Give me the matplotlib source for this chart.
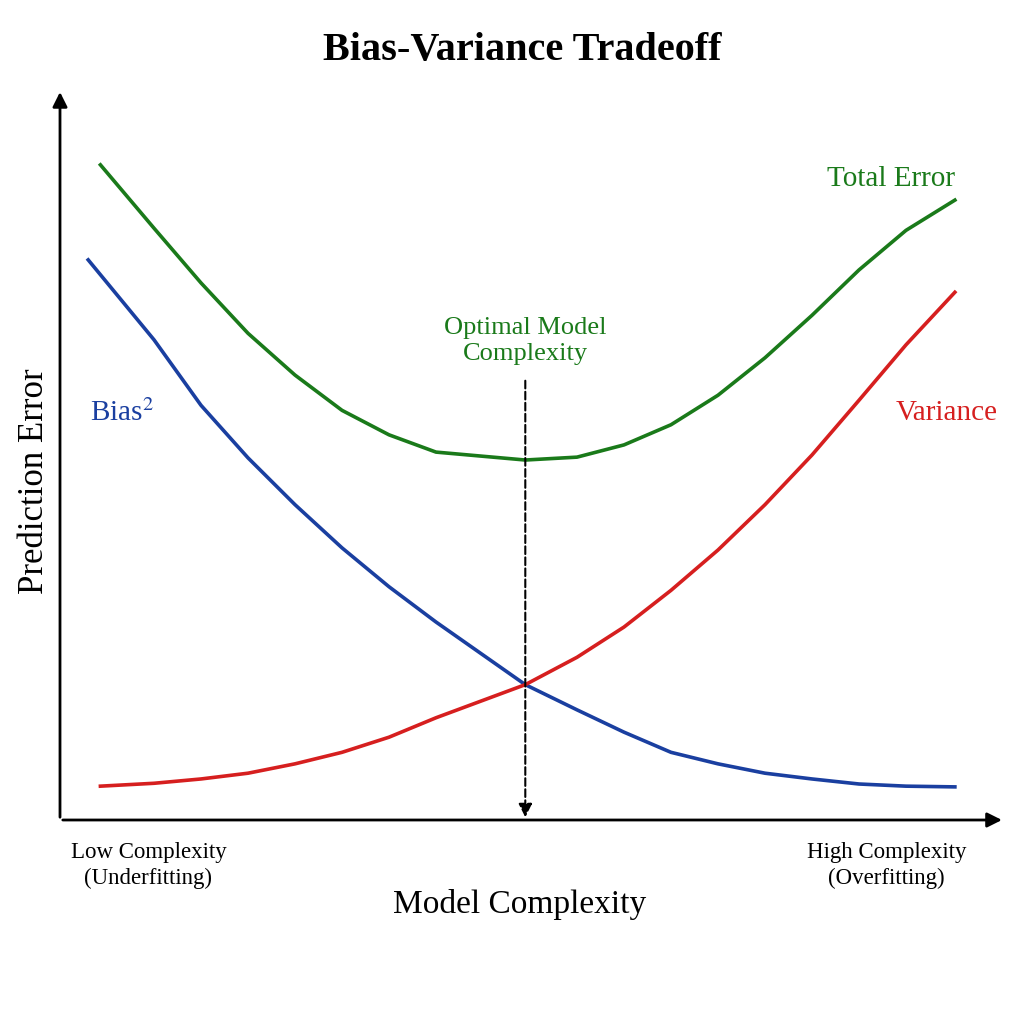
import matplotlib
matplotlib.use("Agg")
import matplotlib.pyplot as plt

plt.rcParams['font.family'] = ['Liberation Serif', 'DejaVu Serif']
plt.rcParams['mathtext.fontset'] = 'stix'

complexity = [0.43, 1, 1.5, 2, 2.5, 3, 3.5, 4, 4.95, 5.5, 6, 6.5, 7, 7.5, 8, 8.5, 9, 9.52]
bias_x = [0.3] + complexity[1:]
bias_sq = [7.78, 6.67, 5.76, 5.03, 4.38, 3.78, 3.24, 2.75, 1.88, 1.53, 1.22, 0.94, 0.78, 0.65, 0.57, 0.50, 0.47, 0.46]
variance = [0.47, 0.51, 0.57, 0.65, 0.78, 0.94, 1.15, 1.42, 1.88, 2.26, 2.68, 3.19, 3.75, 4.38, 5.07, 5.83, 6.60, 7.33]
total_error = [9.10, 8.22, 7.46, 6.76, 6.18, 5.69, 5.35, 5.11, 5.00, 5.04, 5.21, 5.49, 5.90, 6.42, 7.01, 7.64, 8.19, 8.61]
optimal_x = 4.95
optimal_top = 6.14

fig = plt.figure(figsize=(10.24, 10.24), dpi=100)
ax = fig.add_axes([60/1024, 204/1024, 940/1024, 725/1024])
ax.set_xlim(0, 10)
ax.set_ylim(0, 10.07)
ax.axis('off')

ax.plot(bias_x, bias_sq, color='#1a3fa0', lw=2.6, solid_joinstyle='round')
ax.plot(complexity, variance, color='#d61f1f', lw=2.6, solid_joinstyle='round')
ax.plot(complexity, total_error, color='#1a7a1a', lw=2.6, solid_joinstyle='round')

ax.annotate('', xy=(10.05, 0), xytext=(0, 0),
            arrowprops=dict(arrowstyle='-|>', color='black', lw=2, mutation_scale=22), annotation_clip=False)
ax.annotate('', xy=(0, 10.15), xytext=(0, 0),
            arrowprops=dict(arrowstyle='-|>', color='black', lw=2, mutation_scale=22), annotation_clip=False)
ax.annotate('', xy=(optimal_x, 0), xytext=(optimal_x, optimal_top),
            arrowprops=dict(arrowstyle='-|>', color='black', lw=1.5, linestyle='--', mutation_scale=20))

ax.text(optimal_x, 6.65, 'Optimal Model\nComplexity', color='#1a7a1a', fontsize=19,
        ha='center', va='center', linespacing=1.25)
ax.text(9.52, 8.9, 'Total Error', color='#1a7a1a', fontsize=21, ha='right', va='center')
ax.text(0.32, 5.65, 'Bias$^{2}$', color='#1a3fa0', fontsize=21, ha='left', va='center')
ax.text(9.98, 5.65, 'Variance', color='#d61f1f', fontsize=21, ha='right', va='center')

fig.text(0.51, 0.951, 'Bias-Variance Tradeoff', fontsize=29, fontweight='bold', ha='center', va='center')
fig.text(0.507, 0.117, 'Model Complexity', fontsize=24, ha='center', va='center')
fig.text(0.034, 0.53, 'Prediction Error', fontsize=25, rotation=90, ha='center', va='center')
fig.text(0.145, 0.155, 'Low Complexity\n(Underfitting)', fontsize=16.5, ha='center', va='center', linespacing=1.3)
fig.text(0.866, 0.155, 'High Complexity\n(Overfitting)', fontsize=16.5, ha='center', va='center', linespacing=1.3)

fig.savefig('out.png', dpi=100, facecolor='white')
